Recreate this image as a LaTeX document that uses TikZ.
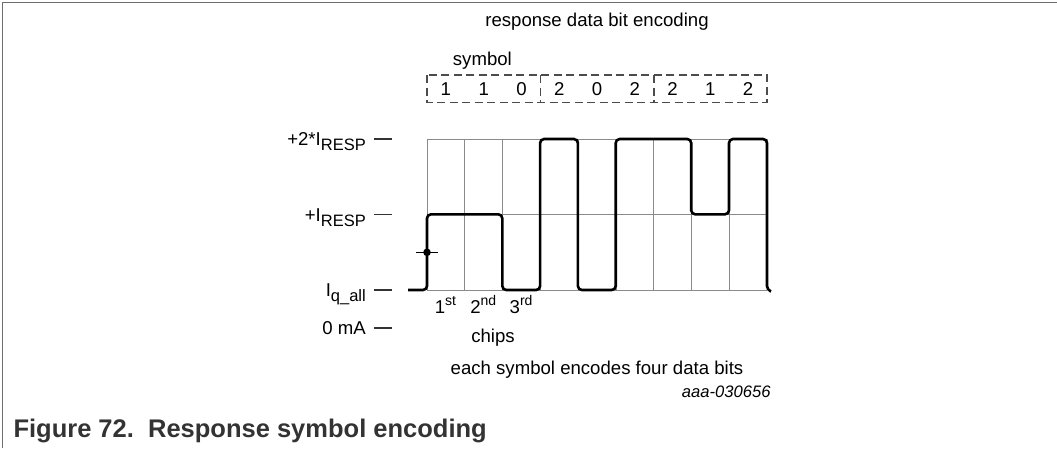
\documentclass[tikz,border=0pt]{standalone}
\usepackage{fontspec}
\setmainfont{Liberation Sans}
\usepackage{tikz}
\usetikzlibrary{positioning,calc}
\usepackage{xcolor}
\definecolor{gridgray}{HTML}{8A8A8A}
\definecolor{framegray}{HTML}{6E6E6E}
\definecolor{capgray}{HTML}{333333}
\newcommand{\lvsub}[2]{#1\raisebox{-0.28em}{\fontsize{16.5}{18}\selectfont #2}}
\newcommand{\chipord}[2]{#1\raisebox{0.42em}{\fontsize{14}{15}\selectfont #2}}
\newcommand{\levelmark}[4]{%
  \node[lbl,anchor=base east] (#4) at (366,#1+6.7) {#3};
  \draw[black!80,line width=1.2pt] (374,#1) -- (392,#1);
}

\begin{document}
\begin{tikzpicture}[x=1pt,y=-1pt,
  lbl/.style={inner sep=0pt,font=\fontsize{18.6}{22}\selectfont}]
  \useasboundingbox (0,0) rectangle (1057,448);
  \draw[framegray,line width=1.3pt] (2.7,448) -- (2.7,2.3) -- (1057,2.3);
  \foreach \i in {0,...,9}
    \draw[gridgray,line width=0.8pt] ({427+\i*37.78},139) -- ({427+\i*37.78},290);
  \foreach \y in {139,214.3,290}
    \draw[gridgray,line width=0.8pt] (427,\y) -- (767,\y);
  \levelmark{139}{2}{\lvsub{+2*I}{RESP}}{lvtwo}
  \levelmark{214.3}{1}{\lvsub{+I}{RESP}}{lvone}
  \levelmark{290}{0}{\lvsub{I}{q\_all}}{lvq}
  \levelmark{328}{z}{0 mA}{lvzero}
  \draw[line width=2.6pt,rounded corners=4pt]
    (408,290) -- (427,290) -- (427,214.3) -- (502.3,214.3) -- (502.3,290)
    -- (540.1,290) -- (540.1,139) -- (577.9,139) -- (577.9,290)
    -- (615.7,290) -- (615.7,139) -- (691.2,139) -- (691.2,214.3)
    -- (729,214.3) -- (729,139) -- (767,139) -- (767,290) -- (771,291.5);
  \fill (427,252.3) circle (3.8pt);
  \draw[line width=1.2pt] (416,252.3) -- (438,252.3);
  \draw[black!70,line width=1.4pt,dash pattern=on 8pt off 4.5pt]
    (427,75) rectangle (767,102.3) (540.3,75) -- (540.3,102.3) (654,75) -- (654,102.3);
  \foreach \v [count=\i from 0] in {1,1,0,2,0,2,2,1,2}
    \node[lbl,anchor=base] (sym\i) at ({445.9+\i*37.78},95.5) {\v};
  \foreach \t [count=\i from 0] in {{\chipord{1}{st}},{\chipord{2}{nd}},{\chipord{3}{rd}}}
    \node[lbl,anchor=base] (ord\i) at ({445.5+\i*37.78},313) {\t};
  \node[lbl,anchor=base] (title) at (597,26.5) {response data bit encoding};
  \node[lbl,anchor=base west] (symlbl) at (452.7,65) {symbol};
  \node[lbl,anchor=base] (chips) at (493,342) {chips};
  \node[lbl,anchor=base] (note) at (597,374.5) {each symbol encodes four data bits};
  \node[inner sep=0pt,anchor=base east,font=\fontsize{16.6}{19}\selectfont\itshape] (ref) at (770.7,397) {aaa-030656};
  \node[inner sep=0pt,anchor=base west,text=capgray,font=\fontsize{25.5}{29}\selectfont\bfseries] (cap) at (13.3,437.5) {Figure 72.\ \ Response symbol encoding};
\end{tikzpicture}
\end{document}
